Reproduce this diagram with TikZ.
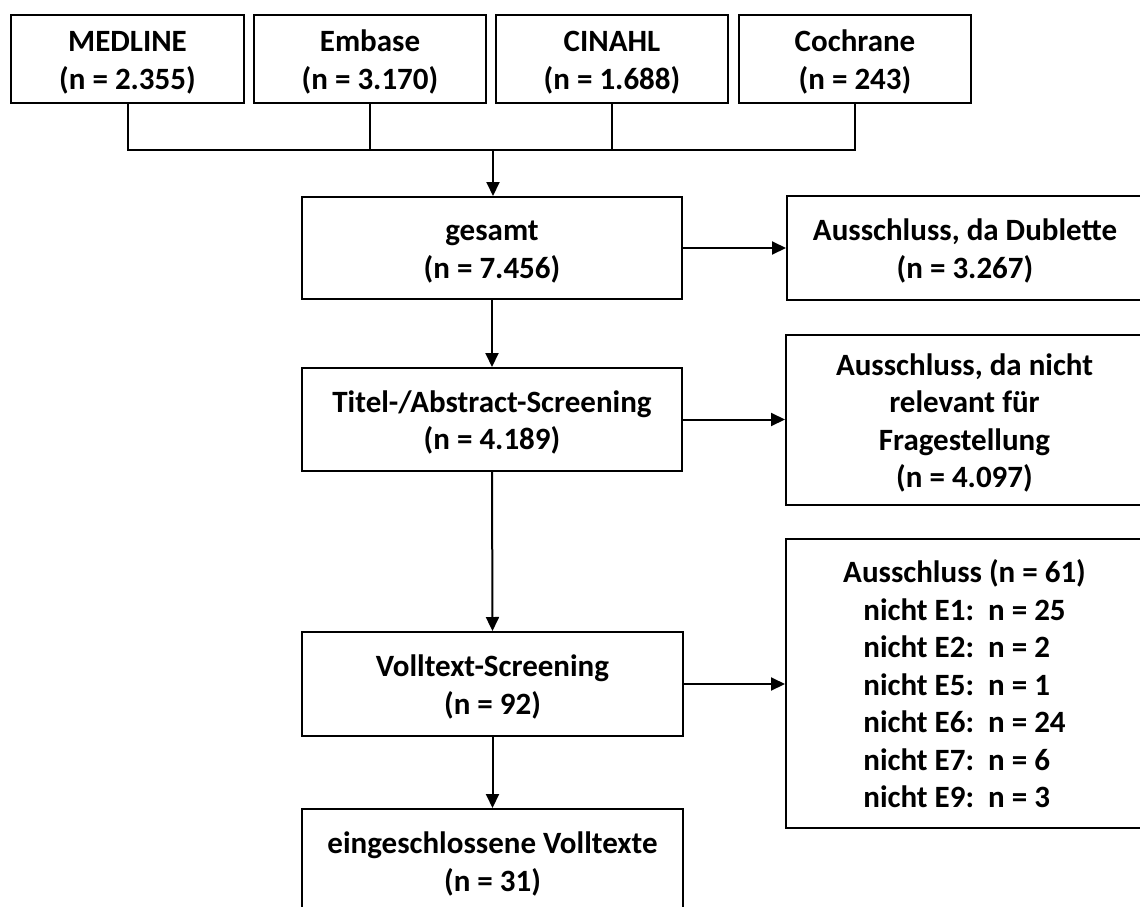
\documentclass[tikz,border=0pt]{standalone}
\usepackage{fontspec}
\setmainfont{Carlito}
\usetikzlibrary{arrows.meta,calc}
\newcommand{\boxtext}[1]{\raisebox{-4pt}[\height][\depth]{\begin{tabular}{@{}c@{}}#1\end{tabular}}}
\tikzset{
  box/.style={draw=black, line width=2pt, fill=white, inner sep=0pt,
    font=\bfseries\fontsize{31}{37.5}\selectfont},
  conn/.style={line width=2pt},
  arr/.style={line width=2pt, -{Triangle[width=13pt,length=14pt]}}
}
\begin{document}
\begin{tikzpicture}[x=1pt,y=-1pt]
\useasboundingbox (0,0) rectangle (1140,907);
% sources
\node[box, minimum width=233pt, minimum height=88pt] (med) at (127.5,59) {\boxtext{MEDLINE\\(n = 2.355)}};
\node[box, minimum width=232pt, minimum height=88pt] (emb) at (370,59) {\boxtext{Embase\\(n = 3.170)}};
\node[box, minimum width=232pt, minimum height=88pt] (cin) at (612,59) {\boxtext{CINAHL\\(n = 1.688)}};
\node[box, minimum width=232pt, minimum height=88pt] (coc) at (855,59) {\boxtext{Cochrane\\(n = 243)}};
\coordinate (j) at (493,150);
% main column
\node[box, minimum width=380pt, minimum height=102pt] (ges) at (492,248) {\boxtext{gesamt\\(n = 7.456)}};
\node[box, minimum width=380pt, minimum height=103pt] (tit) at (492,419.5) {\boxtext{Titel-/Abstract-Screening\\(n = 4.189)}};
\node[box, minimum width=381pt, minimum height=104pt] (vol) at (492.5,684) {\boxtext{Volltext-Screening\\(n = 92)}};
\node[box, minimum width=381pt, minimum height=104pt] (ein) at (492.5,861) {\boxtext{eingeschlossene Volltexte\\(n = 31)}};
% exclusions
\node[box, minimum width=356pt, minimum height=104pt] (dub) at (965,248) {\boxtext{Ausschluss, da Dublette\\(n = 3.267)}};
\node[box, minimum width=357pt, minimum height=170pt] (fra) at (964.5,420) {\boxtext{Ausschluss, da nicht\\relevant für\\Fragestellung\\(n = 4.097)}};
\node[box, minimum width=357pt, minimum height=289pt] (a61) at (964.5,683.5) {\boxtext{Ausschluss (n = 61)\\
nicht E1:\ \ n = 25\\
nicht E2:\ \ n = 2\hphantom{5}\\
nicht E5:\ \ n = 1\hphantom{5}\\
nicht E6:\ \ n = 24\\
nicht E7:\ \ n = 6\hphantom{5}\\
nicht E9:\ \ n = 3\hphantom{5}}};
% connectors
\draw[conn] (med.south) -- (med.south |- j) -- (coc.south |- j) -- (coc.south);
\draw[conn] (emb.south) -- (emb.south |- j);
\draw[conn] (cin.south) -- (cin.south |- j);
\draw[arr] (j) -- (j |- ges.north);
\draw[arr] (ges.south) -- (tit.north);
\draw[arr] (tit.south) -- (vol.north);
\draw[arr] (vol.south) -- (ein.north);
\draw[arr] (ges.east) -- (ges.east -| dub.west);
\draw[arr] (tit.east) -- (tit.east -| fra.west);
\draw[arr] (vol.east) -- (vol.east -| a61.west);
\end{tikzpicture}
\end{document}
